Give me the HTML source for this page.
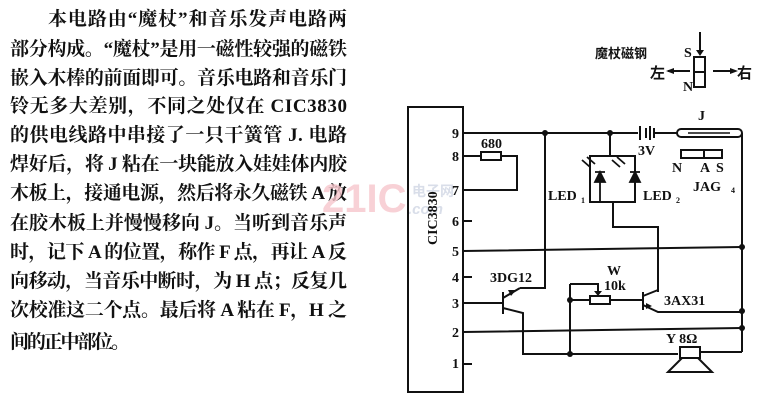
<!DOCTYPE html>
<html><head><meta charset="utf-8"><style>
html,body{margin:0;padding:0;background:#fff;}
svg{display:block;}
</style></head><body>
<svg width="777" height="406" viewBox="0 0 777 406" xmlns="http://www.w3.org/2000/svg">
<g font-family="'Liberation Serif','Noto Serif CJK SC','Noto Sans CJK SC',serif" font-size="19" font-weight="bold" fill="#111">
<text x="48" y="25" textLength="299" lengthAdjust="spacing">本电路由“魔杖”和音乐发声电路两</text>
<text x="10" y="55" textLength="337" lengthAdjust="spacing">部分构成。“魔杖”是用一磁性较强的磁铁</text>
<text x="10" y="84" textLength="337" lengthAdjust="spacing">嵌入木棒的前面即可。音乐电路和音乐门</text>
<text x="10" y="112" textLength="337" lengthAdjust="spacing">铃无多大差别，不同之处仅在 CIC3830</text>
<text x="10" y="141" textLength="337" lengthAdjust="spacing">的供电线路中串接了一只干簧管 J. 电路</text>
<text x="10" y="170" textLength="337" lengthAdjust="spacing">焊好后，将 J 粘在一块能放入娃娃体内胶</text>
<text x="10" y="199" textLength="337" lengthAdjust="spacing">木板上，接通电源，然后将永久磁铁 A 放</text>
<text x="10" y="229" textLength="337" lengthAdjust="spacing">在胶木板上并慢慢移向 J。当听到音乐声</text>
<text x="10" y="258" textLength="337" lengthAdjust="spacing">时，记下 A 的位置，称作 F 点，再让 A 反</text>
<text x="10" y="287" textLength="337" lengthAdjust="spacing">向移动，当音乐中断时，为 H 点；反复几</text>
<text x="10" y="316" textLength="337" lengthAdjust="spacing">次校准这二个点。最后将 A 粘在 F，H 之</text>
<text x="10" y="348" textLength="120" lengthAdjust="spacing">间的正中部位。</text>
</g>
<!-- watermark -->
<g font-family="'Liberation Sans','Noto Sans CJK SC',sans-serif" font-weight="bold" fill="#f7c6cc" opacity="0.8">
<text x="322" y="212" font-size="40">21IC</text>
<text x="412" y="196" font-size="14" fill="#d0d6e4">电子网</text>
<text x="408" y="214" font-size="15" fill="#d0d6e4" font-style="italic">.com</text>
</g>
<g stroke="#111" stroke-width="2" fill="none">
<rect x="408" y="107" width="55" height="285"/>
<path d="M463 221H472M463 277H472M463 364H472"/>
<path d="M463 133H638M655 133H677M742 133V352"/>
<path d="M640 126V140M646 128V138M650 126V140M654 128V138" stroke-width="2"/>
<rect x="677" y="129" width="65" height="8" rx="4"/>
<path d="M688 133L730 133" stroke-width="1.5"/>
<path d="M463 156H481M501 156H517V190H463"/>
<rect x="481" y="152" width="20" height="8"/>
<path d="M545 133V288H520"/>
<path d="M610 133V156M590 156H635V202H590Z"/>
<path d="M613 202V227H658V292"/>
<path d="M463 251L742 247M463 332L742 328"/>
<path d="M463 303H503M503 292V314M503 298L520 288M503 308L523 313V354H678"/>
<path d="M570 300H590M610 300H643M570 284H598V292M570 284V354"/>
<rect x="590" y="296" width="20" height="8"/>
<path d="M643 292V310M643 296L658 290M643 305L658 312H742"/>
<rect x="680" y="347" width="20" height="11"/>
<path d="M700 352H742M682 358L668 372H712L698 358"/>
<rect x="681" y="150" width="41" height="8"/>
<path d="M704 150V158"/>
<rect x="694" y="57" width="11" height="30"/>
<path d="M694 72H705M700 32V52M668 71H690M713 71H735"/>
</g>
<g fill="#111">
<polygon points="696,50 704,50 700,56"/>
<polygon points="666,71 674,68 674,74"/>
<polygon points="738,71 730,68 730,74"/>
<polygon points="594,291 602,291 598,296"/>
<polygon points="646,303 652,306 646,309"/>
<polygon points="516,290 511,296 508,290"/>
<circle cx="545" cy="133" r="3"/><circle cx="610" cy="133" r="3"/>
<circle cx="742" cy="247" r="3"/><circle cx="742" cy="311" r="3"/><circle cx="742" cy="328" r="3"/>
<circle cx="570" cy="300" r="3"/><circle cx="570" cy="354" r="3"/>
</g>
<g stroke="#111" stroke-width="1.8" fill="#111">
<path d="M595 172H605M600 172V202" fill="none"/><polygon points="595,182 605,182 600,172"/>
<path d="M630 172H640" fill="none"/><polygon points="630,182 640,182 635,172"/>
<path d="M582 160L590 167M587 157L595 164" fill="none"/>
<path d="M612 160L620 167M617 157L625 164" fill="none"/>
</g>
<g font-family="'Liberation Serif','Noto Serif CJK SC',serif" font-weight="bold" font-size="14" fill="#111">
<text x="452" y="138">9</text><text x="452" y="161">8</text><text x="452" y="195">7</text>
<text x="452" y="226">6</text><text x="452" y="256">5</text><text x="452" y="282">4</text>
<text x="452" y="308">3</text><text x="452" y="337">2</text><text x="452" y="368">1</text>
<text x="481" y="148">680</text>
<text x="638" y="155">3V</text>
<text x="698" y="120">J</text>
<text x="672" y="172">N</text><text x="700" y="172">A</text><text x="716" y="172">S</text>
<text x="693" y="191">JAG</text><text x="731" y="193" font-size="8">4</text>
<text x="548" y="200">LED</text><text x="581" y="203" font-size="8">1</text>
<text x="643" y="200">LED</text><text x="676" y="203" font-size="8">2</text>
<text x="490" y="282">3DG12</text>
<text x="607" y="275">W</text><text x="604" y="290">10k</text>
<text x="664" y="305">3AX31</text>
<text x="666" y="343">Y 8Ω</text>
<text x="684" y="57">S</text><text x="683" y="91">N</text>
<text x="595" y="58" font-size="13" font-family="'Noto Sans CJK SC',sans-serif">魔杖磁钢</text>
<text x="650" y="78" font-size="15" font-family="'Noto Sans CJK SC',sans-serif">左</text>
<text x="737" y="78" font-size="15" font-family="'Noto Sans CJK SC',sans-serif">右</text>
<text transform="translate(437,245) rotate(-90)" font-size="14">CIC3830</text>
</g>
</svg>
</body></html>
